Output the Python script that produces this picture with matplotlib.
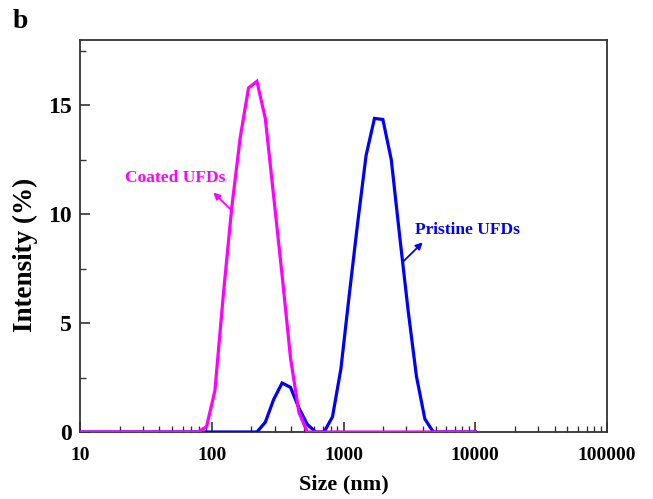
import matplotlib
matplotlib.use("Agg")
import matplotlib.pyplot as plt
from matplotlib.ticker import FixedLocator, NullFormatter, LogLocator

# Malvern size bins (nm)
sizes = [8.721, 10.1, 11.7, 13.54, 15.69, 18.17, 21.04, 24.36, 28.21, 32.67, 37.84,
         43.82, 50.75, 58.77, 68.06, 78.82, 91.28, 105.7, 122.4, 141.8, 164.2, 190.1,
         220.2, 255.0, 295.3, 342.0, 396.1, 458.7, 531.2, 615.1, 712.4, 825.0, 955.4,
         1106, 1281, 1484, 1718, 1990, 2305, 2669, 3091, 3580, 4145, 4801, 5560,
         6439, 7456, 8635, 10000]

coated = [0, 0, 0, 0, 0, 0, 0, 0, 0, 0, 0,
          0, 0, 0, 0, 0, 0.25, 1.9, 6.3, 10.3, 13.5, 15.8,
          16.1, 14.4, 10.8, 7.2, 3.4, 0.9, 0, 0, 0, 0, 0,
          0, 0, 0, 0, 0, 0, 0, 0, 0, 0, 0, 0,
          0, 0, 0, 0]

pristine = [0, 0, 0, 0, 0, 0, 0, 0, 0, 0, 0,
            0, 0, 0, 0, 0, 0, 0, 0, 0, 0, 0,
            0, 0.45, 1.5, 2.25, 2.05, 1.1, 0.35, 0, 0, 0.7, 2.9,
            6.3, 9.6, 12.7, 14.4, 14.35, 12.5, 9.0, 5.6, 2.55, 0.6, 0, 0,
            0, 0, 0, 0]

x_ticks = [10, 100, 1000, 10000, 100000]
x_ticklabels = ["10", "100", "1000", "10000", "100000"]
y_ticks = [0, 5, 10, 15]

serif = ["Liberation Serif", "DejaVu Serif"]
plt.rcParams['font.family'] = serif
plt.rcParams['font.weight'] = 'bold'

fig = plt.figure(figsize=(6.53, 4.99), dpi=100)
ax = fig.add_axes([80/653, 1-432/499, (607-80)/653, (432-40)/499])

ax.plot(sizes, pristine, color="#0000FF", lw=2.3, solid_joinstyle='miter', zorder=3)
ax.plot(sizes, coated, color="#FF00FF", lw=2.3, solid_joinstyle='miter', zorder=4)

ax.set_xscale('log')
ax.set_xlim(10, 100000)
ax.set_ylim(0, 18)

ax.xaxis.set_major_locator(FixedLocator(x_ticks))
ax.set_xticklabels(x_ticklabels)
ax.xaxis.set_minor_locator(LogLocator(base=10, subs=range(2, 10)))
ax.xaxis.set_minor_formatter(NullFormatter())
ax.set_yticks(y_ticks)
ax.set_yticks([2.5, 7.5, 12.5, 17.5], minor=True)

ax.tick_params(axis='both', which='both', direction='in', top=False, right=False,
               color='#333333')
ax.tick_params(axis='both', which='major', length=7, width=1.2)
ax.tick_params(axis='both', which='minor', length=4, width=1.0)
ax.tick_params(axis='x', which='major', labelsize=14, pad=11)
ax.tick_params(axis='y', which='major', labelsize=17, pad=6)
for lbl in ax.get_xticklabels() + ax.get_yticklabels():
    lbl.set_fontweight('bold')

for sp in ax.spines.values():
    sp.set_color('#333333')
    sp.set_linewidth(1.3)

ax.set_xlabel("Size (nm)", fontsize=16, fontweight='bold')
ax.xaxis.set_label_coords(0.5, -(484 - 432) / 392, transform=ax.transAxes)
ax.set_ylabel("Intensity (%)", fontsize=19.5, fontweight='bold')
ax.yaxis.set_label_coords(-(80 - 25) / 527, (432 - 255) / 392, transform=ax.transAxes)
ax.xaxis.label.set_va('center')
ax.yaxis.label.set_va('center')

ax.text(52.6, 11.67, "Coated UFDs", color="#FF00FF", fontsize=12.5,
        fontweight='bold', ha='center', va='center')
ax.annotate("", xy=(102.8, 11.0), xytext=(141.7, 10.17),
            arrowprops=dict(arrowstyle='-|>', color="#FF00FF", lw=1.3,
                            mutation_scale=10, shrinkA=0, shrinkB=0))

ax.text(8730, 9.29, "Pristine UFDs", color="#0000FF", fontsize=12.5,
        fontweight='bold', ha='center', va='center')
ax.annotate("", xy=(3990, 8.71), xytext=(2877, 7.86),
            arrowprops=dict(arrowstyle='-|>', color="#0000FF", lw=1.3,
                            mutation_scale=10, shrinkA=0, shrinkB=0))

fig.text(20/653, 1-21/499, "b", fontsize=20, fontweight='bold', ha='center', va='center')

fig.savefig("out.png", dpi=100)
